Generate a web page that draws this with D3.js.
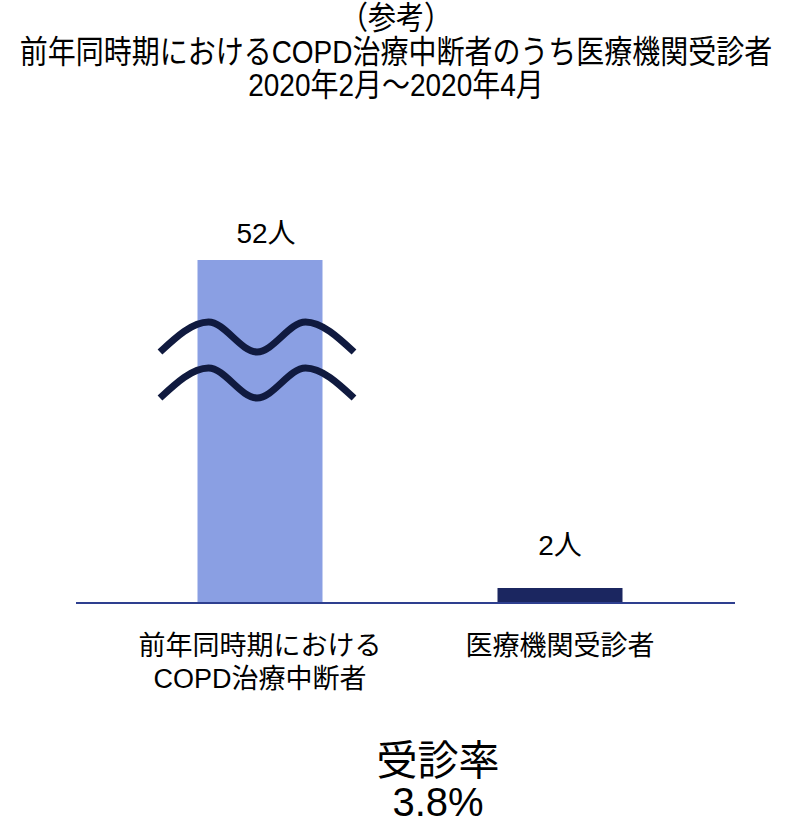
<!DOCTYPE html>
<html><head><meta charset="utf-8">
<script src="https://cdn.jsdelivr.net/npm/d3@7"></script>
<style>body{margin:0;background:#fff}svg{display:block}</style>
</head><body>
<svg id="c" width="785" height="824"></svg>
<script>
const titleLines = ["（参考）", "前年同時期におけるCOPD治療中断者のうち医療機関受診者", "2020年2月～2020年4月"];
const categories = ["前年同時期における\nCOPD治療中断者", "医療機関受診者"];
const values = [52, 2];
const valueLabels = ["52人", "2人"];
const barColors = ["#8a9fe3", "#1b2660"];
const rateLabel = "受診率";
const rateValue = "3.8%";

const font = "'Liberation Sans', Arial, 'Noto Sans CJK JP', sans-serif";
const svg = d3.select("#c");

// titles (slightly condensed)
const titleY = [29, 63, 96];
const tcx = 396, sx = 0.875;
svg.selectAll("text.title").data(titleLines).join("text")
  .attr("class","title")
  .attr("transform",(d,i)=>`translate(${tcx},${titleY[i]}) scale(${sx},1)`)
  .attr("text-anchor","middle").attr("font-family",font).attr("font-size",32)
  .attr("fill","#000").text(d=>d);

// scales: broken axis between 2 and 52
const x = d3.scalePoint().domain(categories).range([110,710]).padding(0.5);
const y = d3.scaleLinear().domain([0,2,52]).range([603,588,260]);
const barW = 125;

svg.selectAll("rect.bar").data(values).join("rect")
  .attr("x",(d,i)=>x(categories[i])-barW/2).attr("width",barW)
  .attr("y",d=>y(d)).attr("height",d=>y(0)-y(d))
  .attr("fill",(d,i)=>barColors[i]);

// baseline
svg.append("line").attr("x1",76).attr("x2",735).attr("y1",y(0)).attr("y2",y(0))
  .attr("stroke","#2e3f8f").attr("stroke-width",2);

// value labels
const labelDx = [6, 0], labelDy = [17, 33];
svg.selectAll("text.vl").data(values).join("text")
  .attr("x",(d,i)=>x(categories[i])+labelDx[i]).attr("y",(d,i)=>y(d)-labelDy[i])
  .attr("text-anchor","middle").attr("font-family",font).attr("font-size",28)
  .text((d,i)=>valueLabels[i]);

// break symbol (wavy lines) on first bar
const cx = x(categories[0]) - 3;
const waveLine = d3.line().curve(d3.curveMonotoneX);
[337, 383].forEach(cy=>{
  const amp = 15, half = 48.5;
  const pts = [];
  for(let k=-2;k<=2;k++) pts.push([cx + k*half, cy + (k%2===0 ? amp : -amp)]);
  svg.append("path").attr("d",waveLine(pts)).attr("fill","none")
    .attr("stroke","#101a3f").attr("stroke-width",7).attr("stroke-linecap","butt");
});

// category labels
categories.forEach((c,i)=>{
  const t = svg.append("text").attr("text-anchor","middle").attr("font-family",font)
    .attr("font-size",27).attr("fill","#000");
  c.split("\n").forEach((ln,j)=>{
    t.append("tspan").attr("x",x(c)).attr("y",655+j*33).text(ln);
  });
});

// rate
svg.append("text").attr("x",438).attr("y",775).attr("text-anchor","middle")
  .attr("font-family",font).attr("font-size",41).text(rateLabel);
svg.append("text").attr("x",438).attr("y",816).attr("text-anchor","middle")
  .attr("font-family",font).attr("font-size",40).text(rateValue);
</script>
</body></html>
